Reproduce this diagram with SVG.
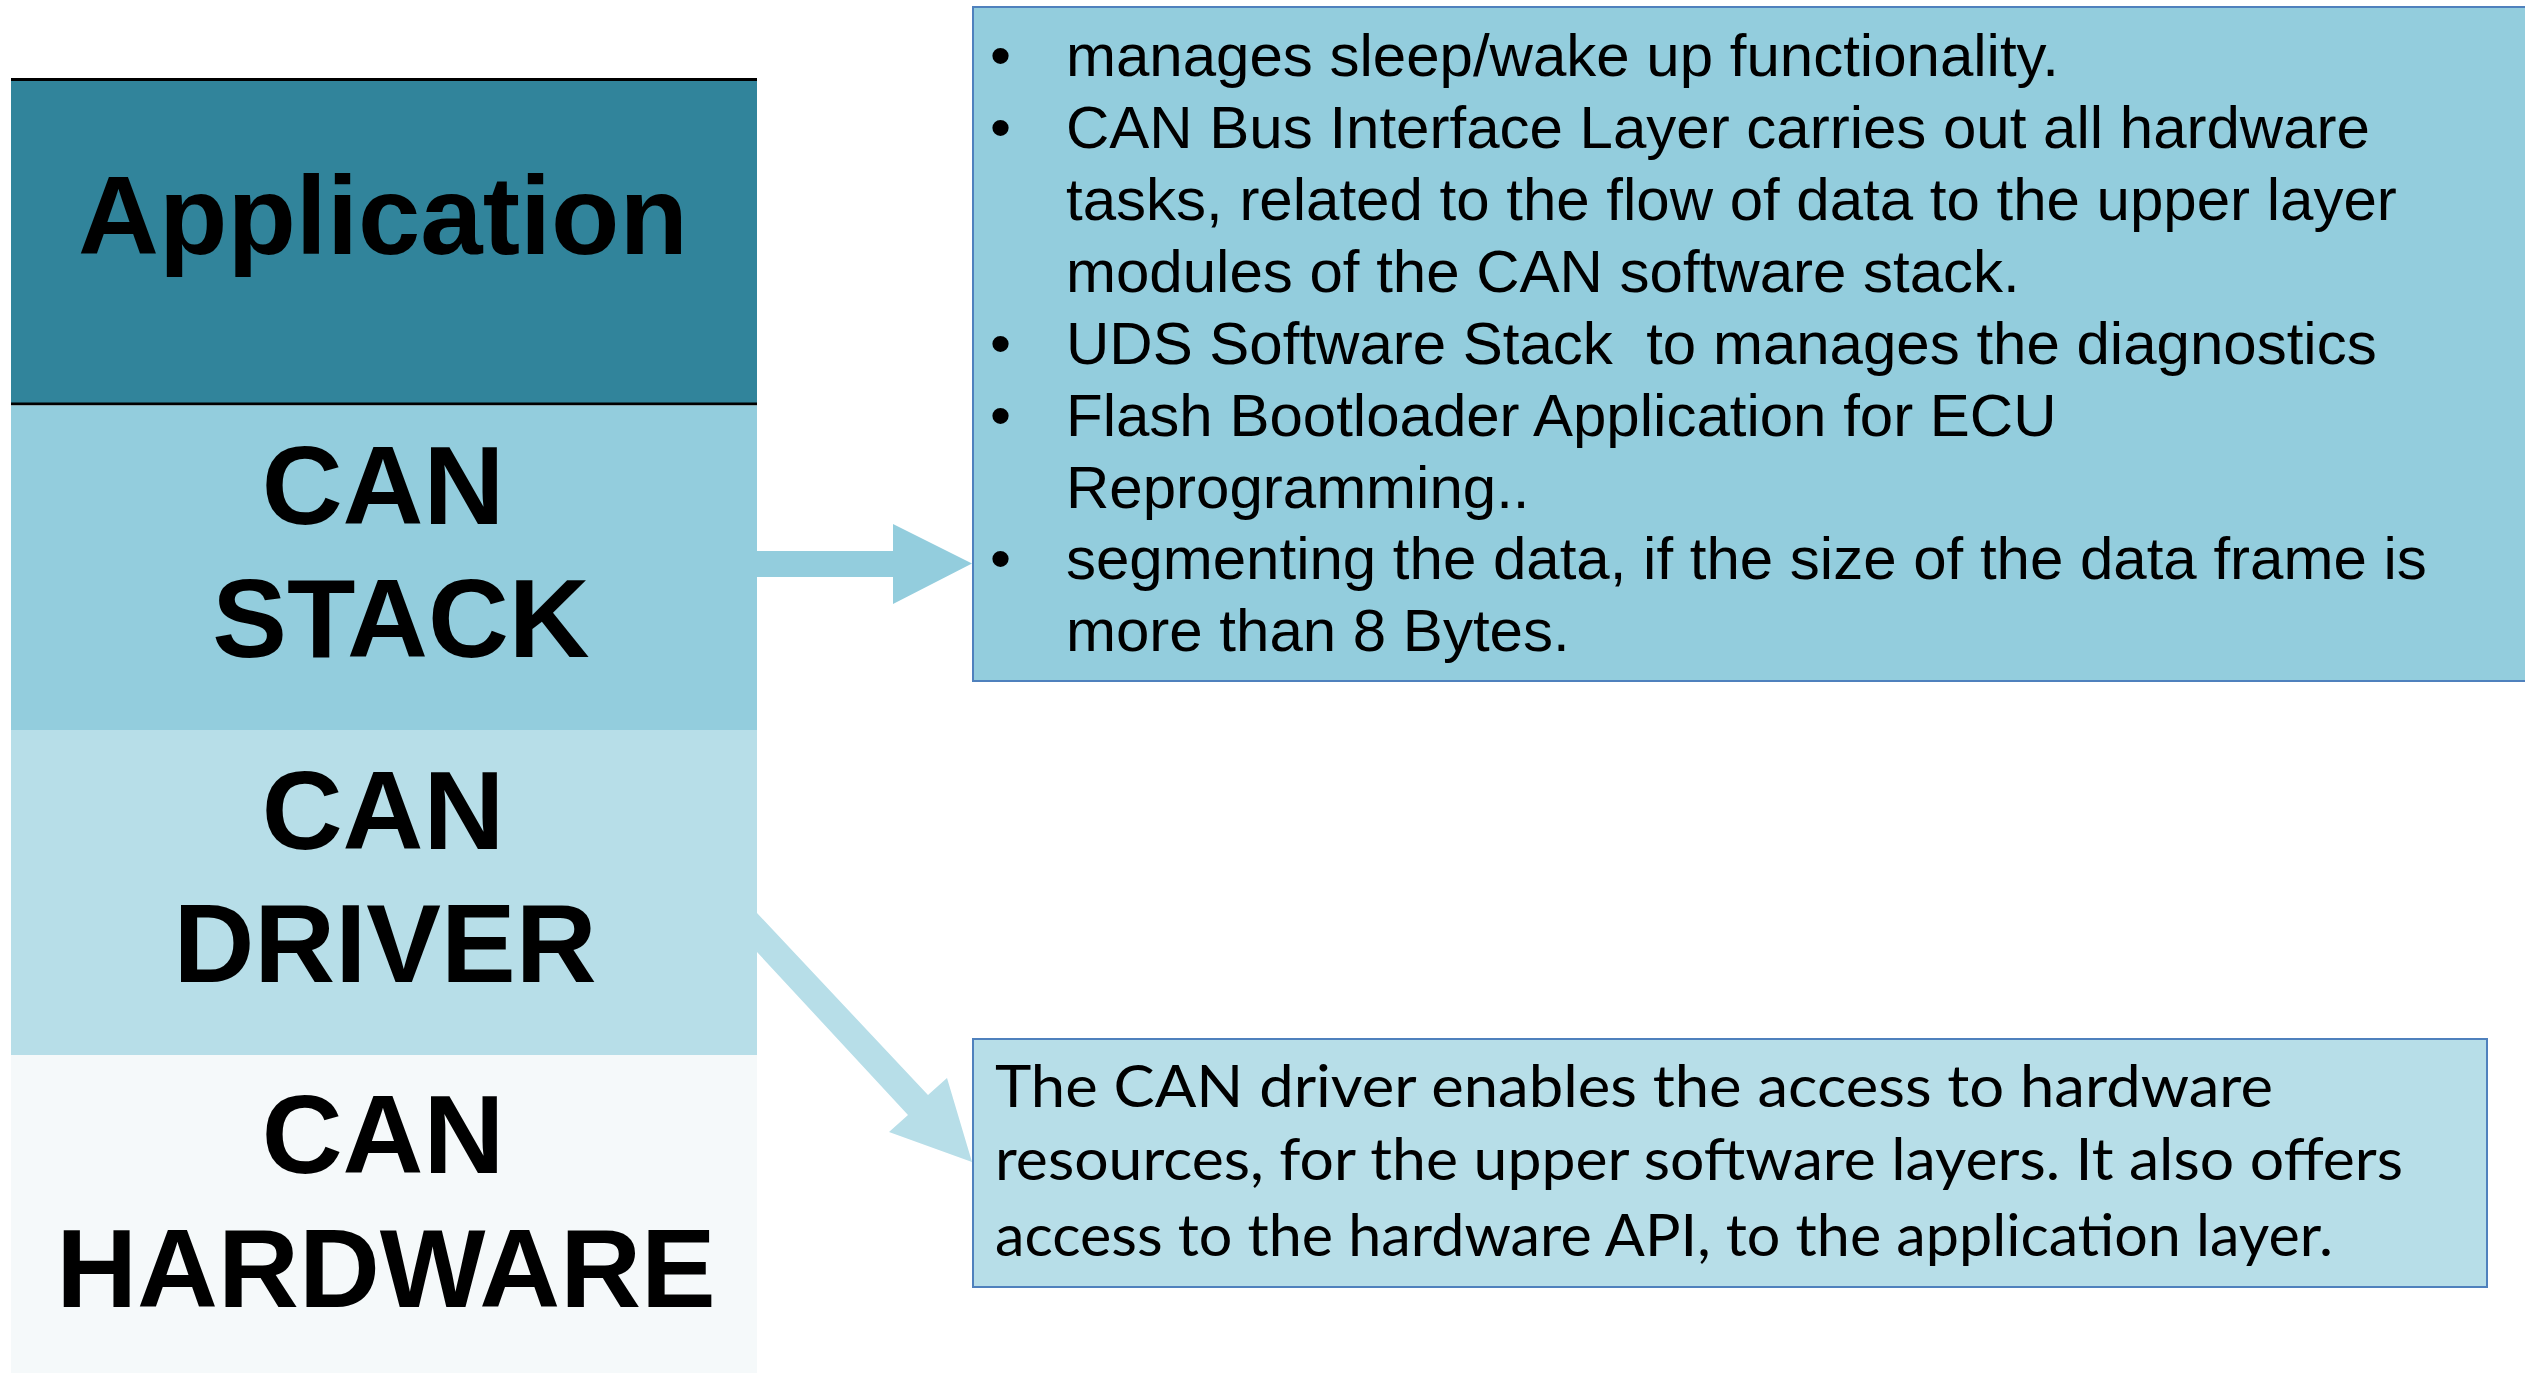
<svg xmlns="http://www.w3.org/2000/svg" width="2525" height="1373" viewBox="0 0 2525 1373">
  <style>
    .layer-label { font-family: "Liberation Sans", Arial, sans-serif; font-weight: bold; font-size: 112px; fill: #000; text-anchor: middle; }
    .bullet-text { font-family: "Liberation Sans", Arial, sans-serif; font-size: 60px; fill: #000; }
    .body-text { font-family: Lato, "Liberation Sans", sans-serif; font-size: 59px; fill: #000; }
    .callout { stroke: #4F81BD; stroke-width: 2; }
    .rule { stroke: #000; stroke-width: 3; }
  </style>

  <rect x="0" y="0" width="2525" height="1373" fill="#ffffff"/>

  <!-- Layer stack -->
  <g id="layer-application">
    <rect x="11" y="79" width="746" height="325" fill="#31849B"/>
    <line class="rule" x1="11" y1="79.5" x2="757" y2="79.5"/>
    <line class="rule" x1="11" y1="404" x2="757" y2="404"/>
    <text class="layer-label" x="383" y="254">Application</text>
  </g>

  <g id="layer-can-stack">
    <rect x="11" y="405.5" width="746" height="324.5" fill="#93CDDD"/>
    <text class="layer-label" x="383" y="524">CAN</text>
    <text class="layer-label" x="401" y="657">STACK</text>
  </g>

  <g id="layer-can-driver">
    <rect x="11" y="730" width="746" height="325" fill="#B7DEE8"/>
    <text class="layer-label" x="383" y="849">CAN</text>
    <text class="layer-label" x="385" y="982">DRIVER</text>
  </g>

  <g id="layer-can-hardware">
    <rect x="11" y="1055" width="746" height="318" fill="#F5F9FA"/>
    <text class="layer-label" x="383" y="1173">CAN</text>
    <text class="layer-label" x="386" y="1307">HARDWARE</text>
  </g>

  <!-- Description of the CAN stack -->
  <g id="note-can-stack">
    <rect class="callout" x="973" y="7" width="1560" height="674" fill="#93CDDD"/>
    <g class="bullet-text">
      <text x="990" y="76">•</text>
      <text x="1066" y="76">manages sleep/wake up functionality.</text>
      <text x="990" y="148">•</text>
      <text x="1066" y="148">CAN Bus Interface Layer carries out all hardware</text>
      <text x="1066" y="220">tasks, related to the flow of data to the upper layer</text>
      <text x="1066" y="292">modules of the CAN software stack.</text>
      <text x="990" y="364">•</text>
      <text x="1066" y="364" xml:space="preserve">UDS Software Stack  to manages the diagnostics</text>
      <text x="990" y="436">•</text>
      <text x="1066" y="436">Flash Bootloader Application for ECU</text>
      <text x="1066" y="508">Reprogramming..</text>
      <text x="990" y="579">•</text>
      <text x="1066" y="579">segmenting the data, if the size of the data frame is</text>
      <text x="1066" y="651">more than 8 Bytes.</text>
    </g>
  </g>

  <!-- Description of the CAN driver -->
  <g id="note-can-driver">
    <rect class="callout" x="973" y="1039" width="1514" height="248" fill="#B7DEE8"/>
    <g class="body-text">
      <text x="995" y="1107" textLength="1278" lengthAdjust="spacingAndGlyphs">The CAN driver enables the access to hardware</text>
      <text x="995" y="1180" textLength="1408" lengthAdjust="spacingAndGlyphs">resources, for the upper software layers. It also offers</text>
      <text x="995" y="1256" textLength="1338" lengthAdjust="spacingAndGlyphs">access to the hardware API, to the application layer.</text>
    </g>
  </g>

  <!-- Connectors -->
  <g id="connectors">
    <polygon fill="#93CDDD" points="757,551 893,551 893,524 972,563.5 893,604 893,577 757,577"/>
    <polygon fill="#B7DEE8" points="757,913 928,1095 947,1078 972,1162 889,1132 908,1115 757,952"/>
  </g>
</svg>
